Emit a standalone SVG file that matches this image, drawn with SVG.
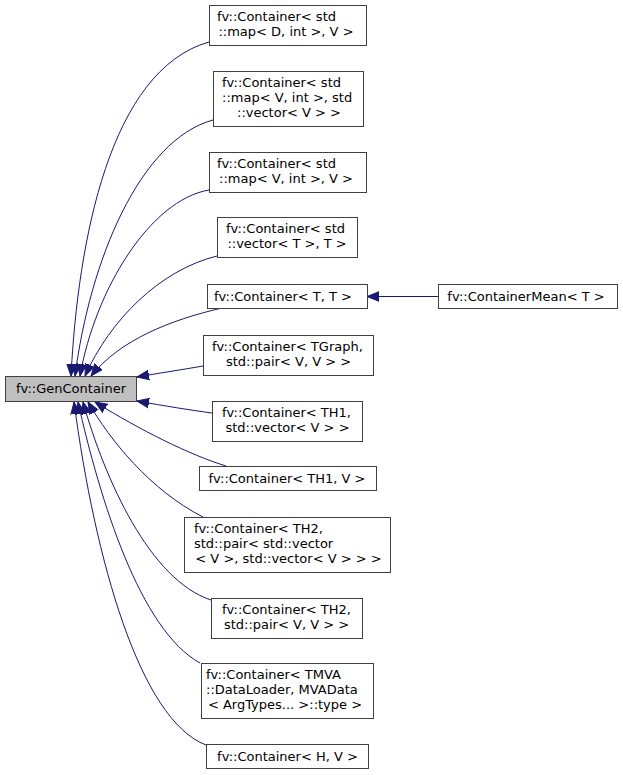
<svg xmlns="http://www.w3.org/2000/svg" width="623" height="775" viewBox="0 0 623 775">
<style>
.box{fill:#ffffff;stroke:#404040;stroke-width:1}
.base{fill:#bfbfbf;stroke:#404040;stroke-width:1}
text{font-family:"DejaVu Sans","Liberation Sans",sans-serif;font-size:13px;fill:#000}
.m{text-anchor:middle}
.e{fill:none;stroke:#191970;stroke-width:1;marker-end:url(#ah)}
</style>
<defs>
<marker id="ah" markerUnits="userSpaceOnUse" viewBox="0 -6 13 12" refX="12" refY="0" markerWidth="13" markerHeight="12" orient="auto">
<path d="M0,-4.8 L12,0 L0,4.8 Z" fill="#191970" stroke="#191970" stroke-width="1"/>
</marker>
</defs>
<rect width="623" height="775" fill="#fff"/>
<g id="connectors">
<path class="e" d="M209,42 C110,70 78,240 71,376"/>
<path class="e" d="M213,120 C140,140 90,260 75,376"/>
<path class="e" d="M209,190 C150,200 95,290 80,376"/>
<path class="e" d="M217,256 C160,270 110,320 85,376"/>
<path class="e" d="M222,308 C170,320 120,340 91,376"/>
<path class="e" d="M203,366 C180,370 160,373 137,377"/>
<path class="e" d="M212,413 C190,410 165,406 137,401"/>
<path class="e" d="M226,466 C190,455 140,430 95,402"/>
<path class="e" d="M203,517 C150,490 110,440 88,402"/>
<path class="e" d="M211,600 C150,580 105,480 83,402"/>
<path class="e" d="M200,663 C140,630 100,500 78,402"/>
<path class="e" d="M206,745 C140,720 95,560 74,402"/>
<path class="e" d="M438,296.5 L367,296.5"/>
</g>
<g id="GenContainer">
<rect class="base" x="5.5" y="376.5" width="131" height="25"/>
<text class="m" x="71" y="393">fv::GenContainer</text>
</g>
<g id="n1">
<rect class="box" x="209.5" y="5.5" width="157" height="40"/>
<text x="217" y="21">fv::Container&lt; std</text>
<text class="m" x="286" y="36">::map&lt; D, int &gt;, V &gt;</text>
</g>
<g id="n2">
<rect class="box" x="213.5" y="71.5" width="150" height="55"/>
<text x="222" y="87">fv::Container&lt; std</text>
<text x="222" y="102">::map&lt; V, int &gt;, std</text>
<text class="m" x="289" y="117">::vector&lt; V &gt; &gt;</text>
</g>
<g id="n3">
<rect class="box" x="209.5" y="152.5" width="157" height="40"/>
<text x="217" y="168">fv::Container&lt; std</text>
<text class="m" x="286" y="183">::map&lt; V, int &gt;, V &gt;</text>
</g>
<g id="n4">
<rect class="box" x="217.5" y="217.5" width="140" height="40"/>
<text x="226" y="233">fv::Container&lt; std</text>
<text class="m" x="287" y="248">::vector&lt; T &gt;, T &gt;</text>
</g>
<g id="n5">
<rect class="box" x="207.5" y="284.5" width="160" height="24"/>
<text class="m" x="283" y="301">fv::Container&lt; T, T &gt;</text>
</g>
<g id="n5m">
<rect class="box" x="438.5" y="284.5" width="179" height="24"/>
<text class="m" x="526" y="301">fv::ContainerMean&lt; T &gt;</text>
</g>
<g id="n6">
<rect class="box" x="203.5" y="335.5" width="170" height="40"/>
<text x="212" y="351">fv::Container&lt; TGraph,</text>
<text class="m" x="288.5" y="366">std::pair&lt; V, V &gt; &gt;</text>
</g>
<g id="n7">
<rect class="box" x="212.5" y="401.5" width="150" height="40"/>
<text x="222" y="417">fv::Container&lt; TH1,</text>
<text class="m" x="287.5" y="432">std::vector&lt; V &gt; &gt;</text>
</g>
<g id="n8">
<rect class="box" x="199.5" y="466.5" width="177" height="24"/>
<text class="m" x="287" y="483">fv::Container&lt; TH1, V &gt;</text>
</g>
<g id="n9">
<rect class="box" x="184.5" y="517.5" width="206" height="55"/>
<text x="194" y="533">fv::Container&lt; TH2,</text>
<text x="194" y="548"> std::pair&lt; std::vector</text>
<text class="m" x="288.5" y="563">&lt; V &gt;, std::vector&lt; V &gt; &gt; &gt;</text>
</g>
<g id="n10">
<rect class="box" x="211.5" y="598.5" width="151" height="40"/>
<text x="222" y="614">fv::Container&lt; TH2,</text>
<text class="m" x="286.5" y="629">std::pair&lt; V, V &gt; &gt;</text>
</g>
<g id="n11">
<rect class="box" x="201.5" y="663.5" width="172" height="55"/>
<text x="206" y="679">fv::Container&lt; TMVA</text>
<text x="206" y="694">::DataLoader, MVAData</text>
<text class="m" x="285" y="709">&lt; ArgTypes... &gt;::type &gt;</text>
</g>
<g id="n12">
<rect class="box" x="206.5" y="744.5" width="162" height="24"/>
<text class="m" x="287.5" y="761">fv::Container&lt; H, V &gt;</text>
</g>
</svg>
